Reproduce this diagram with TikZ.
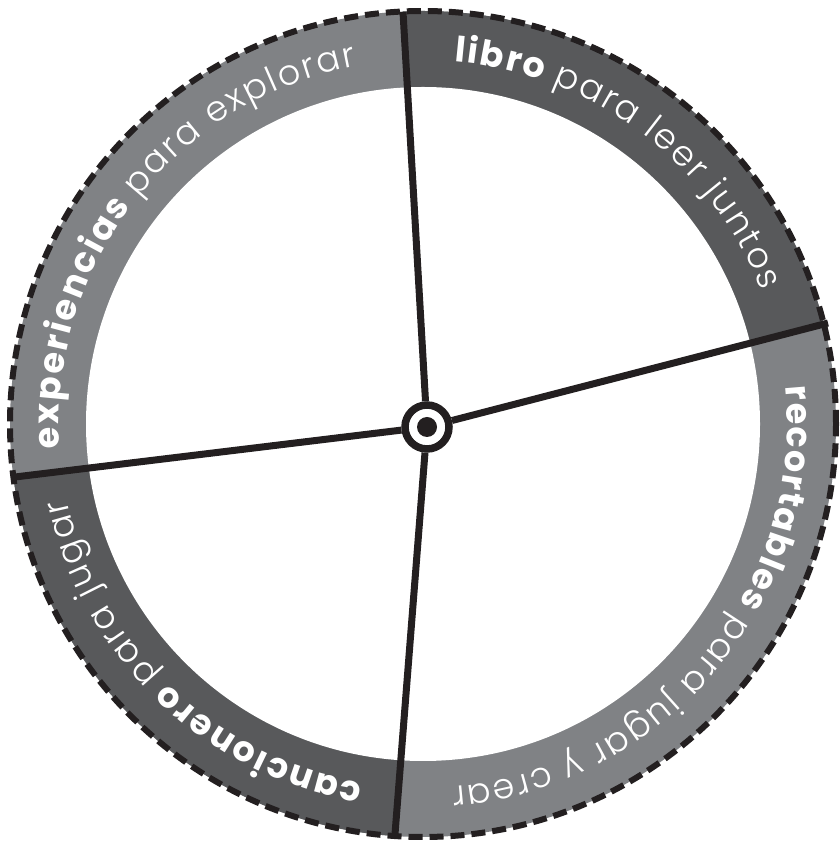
\documentclass[tikz,border=0pt]{standalone}
\usepackage{fontspec}
\setmainfont{Poppins}
\newfontfamily\lightfont{Poppins Light}
\usetikzlibrary{calc,decorations.text}
\definecolor{ringdark}{HTML}{58595B}
\definecolor{ringlight}{HTML}{808285}
\definecolor{inkblack}{HTML}{231F20}
\newcommand\ringbold{\fontsize{35}{38}\selectfont\bfseries\color{white}}
\newcommand\ringthin{\fontsize{35}{38}\selectfont\lightfont\color{white}}

\begin{document}
\begin{tikzpicture}[x=1pt,y=1pt,
    divider/.style={inkblack,line width=7pt},
    ringtext/.style={decorate,decoration={text along path,text align=fit to path,text={#1}}}]
    \fill[white] (0,0) rectangle (839,843);
    \useasboundingbox (0,0) rectangle (839,843);

    \begin{scope}[shift={(423,419)}]
    % Hub and line ends
    \coordinate (c) at (4,-3);
    \coordinate (t) at (-20,412);
    \coordinate (r) at (405,101);
    \coordinate (b) at (-28,-410);
    \coordinate (l) at (-408,-53);

    % Ring
    \fill[ringlight] (0,0) circle (413);
    \begin{scope}
        \clip (0,0) circle (413);
        \fill[ringdark] (c) -- ($(c)!1.6!(r)$) -- (600,600) -- ($(c)!1.6!(t)$) -- cycle;
        \fill[ringdark] (c) -- ($(c)!1.6!(l)$) -- (-600,-600) -- ($(c)!1.6!(b)$) -- cycle;
    \end{scope}
    \fill[white] (0,0) circle (337);

    % Labels
    \path[ringtext={|\ringbold|experiencias |\ringthin|para explorar}]
        (183.8:364) arc[start angle=183.8, end angle=100.5, radius=364];
    \path[ringtext={|\ringbold|libro |\ringthin|para leer juntos}]
        (85.1:364) arc[start angle=85.1, end angle=21.5, radius=364];
    \path[ringtext={|\ringbold|recortables |\ringthin|para jugar y crear}]
        (5.9:364) arc[start angle=5.9, end angle=-85.5, radius=364];
    \path[ringtext={|\ringbold|cancionero |\ringthin|para jugar}]
        (-99.5:364) arc[start angle=-99.5, end angle=-168.1, radius=364];

    % Border
    \draw[inkblack,line width=6pt,dash pattern=on 14pt off 7pt] (0,0) circle (413);

    % Dividers
    \node[circle,draw=inkblack,fill=white,line width=7.5pt,minimum size=44pt,inner sep=0pt] (hub) at (c) {};
    \node[circle,fill=inkblack,minimum size=20pt,inner sep=0pt] (pin) at (c) {};
    \draw[divider] (hub) -- (t);
    \draw[divider] (hub) -- (r);
    \draw[divider] (hub) -- (b);
    \draw[divider] (hub) -- (l);
    \end{scope}
\end{tikzpicture}
\end{document}
